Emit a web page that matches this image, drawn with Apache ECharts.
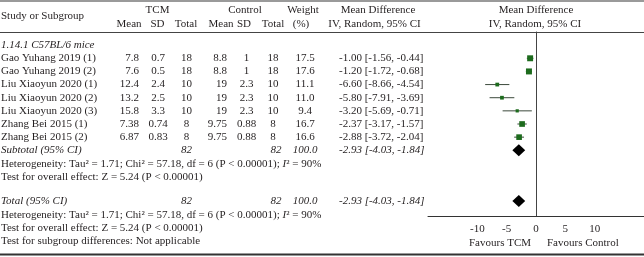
<!DOCTYPE html>
<html>
<head>
<meta charset="utf-8">
<script src="https://cdn.jsdelivr.net/npm/echarts@6/dist/echarts.min.js"></script>
<style>
html, body { margin: 0; padding: 0; background: #fff; }
#chart { width: 644px; height: 257px; }
</style>
</head>
<body>
<div id="chart"></div>
<script>
"use strict"

const studies = ["Gao Yuhang 2019 (1)", "Gao Yuhang 2019 (2)", "Liu Xiaoyun 2020 (1)", "Liu Xiaoyun 2020 (2)",
    "Liu Xiaoyun 2020 (3)", "Zhang Bei 2015 (1)", "Zhang Bei 2015 (2)"];
const tcmMean = [7.8, 7.6, 12.4, 13.2, 15.8, 7.38, 6.87];
const tcmSD = [0.7, 0.5, 2.4, 2.5, 3.3, 0.74, 0.83];
const tcmTotal = [18, 18, 10, 10, 10, 8, 8];
const ctlMean = [8.8, 8.8, 19, 19, 19, 9.75, 9.75];
const ctlSD = [1, 1, 2.3, 2.3, 2.3, 0.88, 0.88];
const ctlTotal = [18, 18, 10, 10, 10, 8, 8];
const weights = [17.5, 17.6, 11.1, 11.0, 9.4, 16.7, 16.6];
const meanDiff = [-1.00, -1.20, -6.60, -5.80, -3.20, -2.37, -2.88];
const ciLow = [-1.56, -1.72, -8.66, -7.91, -5.69, -3.17, -3.72];
const ciHigh = [-0.44, -0.68, -4.54, -3.69, -0.71, -1.57, -2.04];
const pooled = [-2.93, -4.03, -1.84];
const sumTcm = 82, sumCtl = 82, sumWeight = 100.0;
const xTicks = [-10, -5, 0, 5, 10];
const heteroText = ["Heterogeneity: Tau² = 1.71; Chi² = 57.18, df = 6 (P < 0.00001); ", "I", "² = 90%"];
const overallText = "Test for overall effect: Z = 5.24 (P < 0.00001)";
const subgroupText = "Test for subgroup differences: Not applicable";

// row positions (in row units of the plot's y axis)
const studyRows = studies.map((s, i) => i + 2);
const subtotalRow = 9, totalRow = 12.85;

const FONT = "'Liberation Serif', 'DejaVu Serif', serif";
const INK = "#231f20";
const GREEN = "#1d6b1d";

const GRID_TOP = 32, GRID_H = 184, ROWS = 14;
const rowY = r => GRID_TOP + r * GRID_H / ROWS;

const chart = echarts.init(document.getElementById("chart"), null, { renderer: "canvas" });

const fmt2 = v => v.toFixed(2);
const ciStr = (m, l, h) => `${fmt2(m)} [${fmt2(l)}, ${fmt2(h)}]`;

function txt(x, y, s, align, italic)
{
    return {
        type: "text", x: x, y: y, silent: true,
        style: { text: s, font: `${italic ? "italic " : ""}11px ${FONT}`, fill: INK, align: align || "left", verticalAlign: "middle" }
    };
}

const graphics = [];
// borders
graphics.push({ type: "line", shape: { x1: 0, y1: 1, x2: 644, y2: 1 }, style: { stroke: "#9a9a9a", lineWidth: 2 } });
graphics.push({ type: "line", shape: { x1: 0, y1: 32.5, x2: 644, y2: 32.5 }, style: { stroke: "#444", lineWidth: 1 } });
graphics.push({ type: "line", shape: { x1: 0, y1: 254.5, x2: 644, y2: 254.5 }, style: { stroke: "#333", lineWidth: 2 } });

// header
graphics.push(txt(1, 16, "Study or Subgroup"));
graphics.push(txt(157.5, 10, "TCM", "center"));
graphics.push(txt(245, 10, "Control", "center"));
graphics.push(txt(303, 10, "Weight", "center"));
graphics.push(txt(378, 10, "Mean Difference", "center"));
graphics.push(txt(536, 10, "Mean Difference", "center"));
[["Mean", 129], ["SD", 157.5], ["Total", 186], ["Mean", 221], ["SD", 244], ["Total", 273], ["(%)", 301],
    ["IV, Random, 95% CI", 374.5], ["IV, Random, 95% CI", 535]]
    .forEach(h => graphics.push(txt(h[1], 24, h[0], "center")));

graphics.push(txt(1, rowY(1), "1.14.1 C57BL/6 mice", "left", true));

studies.forEach((name, i) =>
{
    const y = rowY(studyRows[i]);
    graphics.push(txt(1, y, name));
    graphics.push(txt(139, y, String(tcmMean[i]), "right"));
    graphics.push(txt(158, y, String(tcmSD[i]), "center"));
    graphics.push(txt(186.5, y, String(tcmTotal[i]), "center"));
    graphics.push(txt(227, y, String(ctlMean[i]), "right"));
    graphics.push(txt(246.5, y, String(ctlSD[i]), "center"));
    graphics.push(txt(273, y, String(ctlTotal[i]), "center"));
    graphics.push(txt(305, y, weights[i].toFixed(1), "center"));
    graphics.push(txt(339, y, ciStr(meanDiff[i], ciLow[i], ciHigh[i])));
});

function heteroLine(y)
{
    return {
        type: "text", x: 1, y: y, silent: true,
        style: {
            text: `${heteroText[0]}{i|${heteroText[1]}}${heteroText[2]}`,
            font: `11px ${FONT}`, fill: INK, verticalAlign: "middle",
            rich: { i: { fontStyle: "italic", fontFamily: FONT, fontSize: 11, fill: INK } }
        }
    };
}

[[subtotalRow, "Subtotal (95% CI)"], [totalRow, "Total (95% CI)"]].forEach(r =>
{
    const y = rowY(r[0]);
    graphics.push(txt(1, y, r[1], "left", true));
    graphics.push(txt(186.5, y, String(sumTcm), "center", true));
    graphics.push(txt(276, y, String(sumCtl), "center", true));
    graphics.push(txt(305, y, sumWeight.toFixed(1), "center", true));
    graphics.push(txt(339, y, ciStr(pooled[0], pooled[1], pooled[2]), "left", true));
    graphics.push(heteroLine(rowY(r[0] + 1.05)));
    graphics.push(txt(1, rowY(r[0] + 2.05), overallText));
});
graphics.push(txt(1, rowY(totalRow + 3.05), subgroupText));

const studyData = studies.map((s, i) => [meanDiff[i], studyRows[i], ciLow[i], ciHigh[i], weights[i]]);
const pooledData = [[pooled[0], subtotalRow, pooled[1], pooled[2]], [pooled[0], totalRow, pooled[1], pooled[2]]];

const option = {
    animation: false,
    grid: { left: 428, right: 0, top: GRID_TOP, height: GRID_H },
    xAxis: {
        type: "value", min: -18.4, max: 18.4,
        axisLine: { show: true, onZero: false, lineStyle: { color: "#333", width: 1 } },
        axisTick: { show: false },
        splitLine: { show: false },
        axisLabel: { customValues: xTicks, color: INK, fontFamily: FONT, fontSize: 11, margin: 8 }
    },
    yAxis: {
        type: "value", min: 0, max: ROWS, inverse: true,
        axisLine: { show: true, onZero: true, lineStyle: { color: "#444", width: 1 } },
        axisTick: { show: false }, axisLabel: { show: false }, splitLine: { show: false }
    },
    series: [
        {
            type: "custom", data: studyData, clip: false,
            renderItem: (params, api) =>
            {
                const p = api.coord([api.value(0), api.value(1)]);
                const a = api.coord([api.value(2), api.value(1)]);
                const b = api.coord([api.value(3), api.value(1)]);
                const s = api.value(4) * 0.34;
                return {
                    type: "group", children: [
                        { type: "line", shape: { x1: a[0], y1: a[1], x2: b[0], y2: b[1] }, style: { stroke: "#3c4a3c", lineWidth: 1 } },
                        { type: "rect", shape: { x: p[0] - s / 2, y: p[1] - s / 2, width: s, height: s }, style: { fill: GREEN } }
                    ]
                };
            }
        },
        {
            type: "custom", data: pooledData, clip: false,
            renderItem: (params, api) =>
            {
                const p = api.coord([api.value(0), api.value(1)]);
                const a = api.coord([api.value(2), api.value(1)]);
                const b = api.coord([api.value(3), api.value(1)]);
                return {
                    type: "polygon",
                    shape: { points: [[a[0], p[1]], [p[0], p[1] - 6], [b[0], p[1]], [p[0], p[1] + 6]] },
                    style: { fill: "#000" }
                };
            }
        }
    ],
    graphic: graphics
};

chart.setOption(option);

// axis captions under the tick labels
const zero = chart.convertToPixel({ gridIndex: 0 }, [0, ROWS]);
chart.setOption({
    graphic: graphics.concat([
        txt(zero[0] - 5, 243, "Favours TCM", "right"),
        txt(zero[0] + 11, 243, "Favours Control", "left")
    ])
});
</script>
</body>
</html>
